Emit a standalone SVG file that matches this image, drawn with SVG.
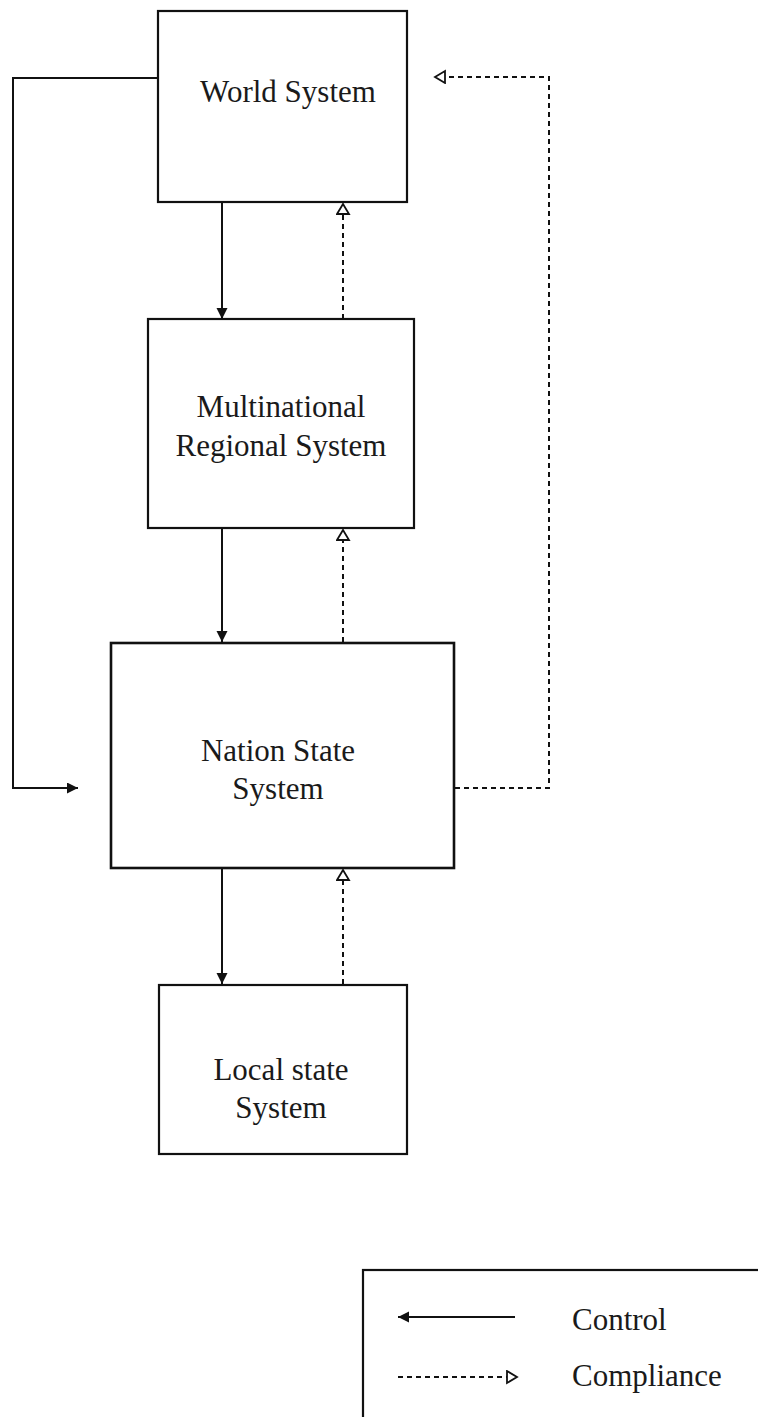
<svg xmlns="http://www.w3.org/2000/svg" width="758" height="1417" viewBox="0 0 758 1417">
<style>
.box{fill:#fff;stroke:#111;stroke-width:2.2}
.lbl{font-family:"Liberation Serif","Times New Roman",serif;font-size:31px;fill:#1a1a1a;text-anchor:middle}
.leg{font-family:"Liberation Serif","Times New Roman",serif;font-size:31px;fill:#1a1a1a}
.ctl{fill:none;stroke:#111;stroke-width:2}
.cmp{fill:none;stroke:#111;stroke-width:2;stroke-dasharray:5 4}
</style>
<defs>
<marker id="solid" markerUnits="userSpaceOnUse" markerWidth="13" markerHeight="13" refX="11" refY="5.5" orient="auto">
<path d="M0,0 L11,5.5 L0,11 z" fill="#111"/>
</marker>
<marker id="open" markerUnits="userSpaceOnUse" markerWidth="15" markerHeight="15" refX="11" refY="7" orient="auto">
<path d="M1,1 L11,7 L1,13 z" fill="#fff" stroke="#111" stroke-width="1.8"/>
</marker>
</defs>
<rect x="0" y="0" width="758" height="1417" fill="#fff"/>
<g id="connectors">
<path class="ctl" d="M158,78 H13 V788 H78" marker-end="url(#solid)"/>
<path class="ctl" d="M222,202 V319" marker-end="url(#solid)"/>
<path class="ctl" d="M222,528 V642" marker-end="url(#solid)"/>
<path class="ctl" d="M222,868 V984" marker-end="url(#solid)"/>
<path class="cmp" d="M343,319 V204" marker-end="url(#open)"/>
<path class="cmp" d="M343,642 V530" marker-end="url(#open)"/>
<path class="cmp" d="M343,984 V870" marker-end="url(#open)"/>
<path class="cmp" d="M455,788 H549 V77 H435" marker-end="url(#open)"/>
</g>
<g id="world">
<rect class="box" x="158" y="11" width="249" height="191"/>
<text class="lbl" x="288" y="102">World System</text>
</g>
<g id="multinational">
<rect class="box" x="148" y="319" width="266" height="209"/>
<text class="lbl" x="281" y="417">Multinational</text>
<text class="lbl" x="281" y="456">Regional System</text>
</g>
<g id="nation">
<rect class="box" x="111" y="643" width="343" height="225" style="stroke-width:2.6"/>
<text class="lbl" x="278" y="761">Nation State</text>
<text class="lbl" x="278" y="799">System</text>
</g>
<g id="local">
<rect class="box" x="159" y="985" width="248" height="169"/>
<text class="lbl" x="281" y="1080">Local state</text>
<text class="lbl" x="281" y="1118">System</text>
</g>
<g id="legend">
<rect class="box" x="363" y="1270" width="420" height="200"/>
<path class="ctl" d="M515,1317 H398" marker-end="url(#solid)"/>
<text class="leg" x="572" y="1330">Control</text>
<path class="cmp" d="M398,1377 H517" marker-end="url(#open)"/>
<text class="leg" x="572" y="1386">Compliance</text>
</g>
</svg>
